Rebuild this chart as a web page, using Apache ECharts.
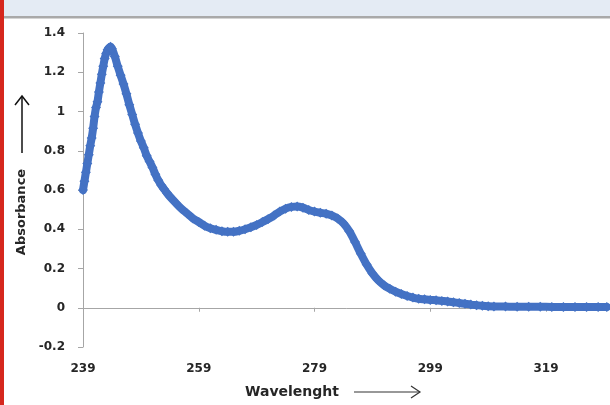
<!DOCTYPE html>
<html>
<head>
<meta charset="utf-8">
<script src="https://cdn.jsdelivr.net/npm/echarts@6/dist/echarts.min.js"></script>
<style>
  html, body { margin: 0; padding: 0; background: #fff; }
  #chart { width: 610px; height: 405px; }
</style>
</head>
<body>
<div id="chart"></div>
<script>
// wavelength (nm) and absorbance
const wavelengths = [
  239, 239.25, 239.5, 239.75, 240, 240.25, 240.5, 240.75, 241, 241.25, 241.5, 241.75,
  242, 242.25, 242.5, 242.75, 243, 243.25, 243.5, 243.75, 244, 244.5, 245, 245.5,
  246, 246.5, 247, 247.5, 248, 248.5, 249, 249.5, 250, 250.5, 251, 251.5, 252, 252.5,
  253, 253.5, 254, 255, 256, 257, 258, 259, 260, 261, 262, 263, 264, 265, 266, 267,
  268, 269, 270, 271, 272, 273, 274, 275, 276, 277, 278, 279, 280, 281, 282, 283,
  284, 285, 286, 287, 288, 289, 290, 291, 292, 293, 294, 295, 296, 297, 298, 299,
  300, 301, 302, 303, 304, 305, 306, 307, 308, 309, 310, 312, 314, 316, 318, 320,
  322, 324, 326, 328, 329.5
]
const absorbance = [
  0.60, 0.645, 0.69, 0.735, 0.78, 0.825, 0.865, 0.915, 0.975, 1.02, 1.05, 1.10,
  1.145, 1.19, 1.23, 1.27, 1.295, 1.315, 1.325, 1.33, 1.32, 1.28, 1.23, 1.185,
  1.14, 1.09, 1.035, 0.985, 0.935, 0.89, 0.85, 0.815, 0.775, 0.745, 0.715, 0.68, 0.65, 0.625,
  0.605, 0.585, 0.567, 0.535, 0.505, 0.48, 0.455, 0.437, 0.418, 0.405, 0.397, 0.39, 0.387, 0.387, 0.392, 0.40,
  0.41, 0.422, 0.437, 0.452, 0.47, 0.49, 0.505, 0.514, 0.516, 0.51, 0.498, 0.49, 0.484, 0.479, 0.47, 0.455,
  0.43, 0.39, 0.335, 0.275, 0.22, 0.175, 0.14, 0.115, 0.097, 0.082, 0.07, 0.06, 0.052, 0.046, 0.043, 0.04,
  0.038, 0.035, 0.032, 0.028, 0.024, 0.02, 0.016, 0.013, 0.01, 0.008, 0.007, 0.006, 0.005, 0.005, 0.005, 0.004,
  0.004, 0.004, 0.004, 0.004, 0.004
]
const xStart = 239      // first tick label
const xTickStep = 20    // 239, 259, 279, 299, 319
const yTicks = [-0.2, 0, 0.2, 0.4, 0.6, 0.8, 1, 1.2, 1.4]

// x axis runs on offsets from 239 so ticks land on 239, 259, ...
const points = wavelengths.map((w, i) => [w - xStart, absorbance[i]])

const labelFont = {
  color: '#262626',
  fontFamily: 'DejaVu Sans',
  fontWeight: 'bold',
  fontSize: 12
}
const axisGray = '#a6a6a6'

const myChart = echarts.init(document.getElementById('chart'), null, { renderer: 'canvas' })

myChart.setOption({
  animation: false,
  backgroundColor: '#fff',
  grid: {
    left: 83,
    top: 33,
    width: 532.5,
    height: 314,
    outerBoundsMode: 'none',
    containLabel: false
  },
  xAxis: [{
    // labels along the bottom of the plot
    type: 'value',
    min: 0,
    max: 92,
    interval: xTickStep,
    position: 'bottom',
    axisLine: { show: false, onZero: false },
    axisTick: { show: false },
    splitLine: { show: false },
    axisLabel: Object.assign({
      margin: 16,
      showMaxLabel: false,
      formatter: v => String(v + xStart)
    }, labelFont)
  }, {
    // the line through y = 0 with its ticks
    type: 'value',
    min: 0,
    max: 92,
    interval: xTickStep,
    position: 'bottom',
    axisLine: { show: true, onZero: true, lineStyle: { color: axisGray, width: 1 } },
    axisTick: { show: true, length: 4, lineStyle: { color: axisGray } },
    axisLabel: { show: false },
    splitLine: { show: false }
  }],
  yAxis: {
    type: 'value',
    min: yTicks[0],
    max: yTicks[yTicks.length - 1],
    interval: 0.2,
    axisLine: { show: true, onZero: false, lineStyle: { color: axisGray, width: 1 } },
    axisTick: { show: true, length: 5, lineStyle: { color: axisGray } },
    splitLine: { show: false },
    axisLabel: Object.assign({
      margin: 18,
      formatter: v => String(Math.round(v * 10) / 10)
    }, labelFont)
  },
  series: [{
    type: 'line',
    xAxisIndex: 0,
    data: points,
    smooth: 0.3,
    symbol: 'diamond',
    symbolSize: 10,
    showAllSymbol: true,
    clip: false,
    lineStyle: { color: '#4472c4', width: 8, cap: 'round', join: 'round' },
    itemStyle: { color: '#4472c4' }
  }],
  graphic: [
    // window chrome around the screenshot
    { type: 'rect', left: 0, top: 0, shape: { width: 610, height: 16 }, style: { fill: '#e4ebf4' }, z: 10 },
    { type: 'rect', left: 0, top: 16, shape: { width: 610, height: 2.5 }, style: { fill: '#a9a9a9' }, z: 10 },
    { type: 'rect', left: 0, top: 0, shape: { width: 4, height: 405 }, style: { fill: '#d6271d' }, z: 11 },
    // axis titles
    {
      type: 'text', x: 292, y: 392, z: 10,
      style: {
        text: 'Wavelenght', fill: '#262626', font: 'bold 14px "DejaVu Sans"',
        textAlign: 'center', textVerticalAlign: 'middle'
      }
    },
    {
      type: 'text', x: 22, y: 212, rotation: Math.PI / 2, z: 10,
      style: {
        text: 'Absorbance', fill: '#262626', font: 'bold 13px "DejaVu Sans"',
        textAlign: 'center', textVerticalAlign: 'middle'
      }
    },
    // arrows next to the titles
    { type: 'line', shape: { x1: 354, y1: 392, x2: 420, y2: 392 }, style: { stroke: '#333', lineWidth: 1.2 } },
    { type: 'polyline', shape: { points: [[411, 386], [420, 392], [411, 398]] }, style: { stroke: '#333', lineWidth: 1.2, fill: null } },
    { type: 'line', shape: { x1: 22, y1: 153, x2: 22, y2: 96 }, style: { stroke: '#111', lineWidth: 1.5 } },
    { type: 'polyline', shape: { points: [[15, 105], [22, 96], [29, 105]] }, style: { stroke: '#111', lineWidth: 1.5, fill: null } }
  ]
})
</script>
</body>
</html>
